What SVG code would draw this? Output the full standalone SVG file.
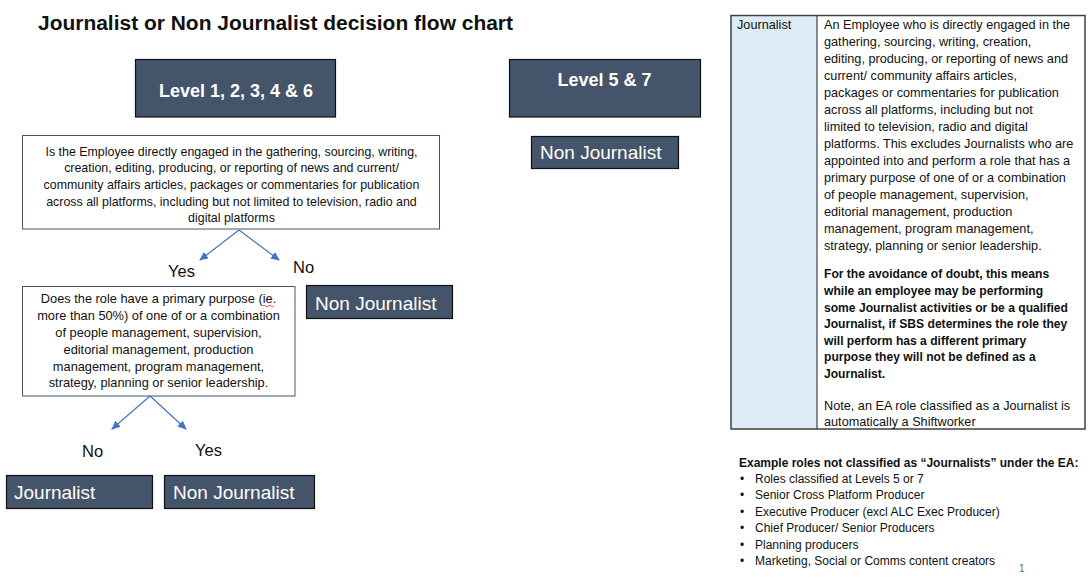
<svg xmlns="http://www.w3.org/2000/svg" width="1092" height="586" viewBox="0 0 1092 586">
<defs>
<style>
.t{font-family:"Liberation Sans",Arial,sans-serif;fill:#111}
.title{font-size:19.5px;font-weight:bold}
.dark{fill:#44546A;stroke:#111;stroke-width:1.2}
.lvl{font-family:"Liberation Sans",Arial,sans-serif;font-size:18px;font-weight:bold;fill:#fff;text-anchor:middle}
.out{font-family:"Liberation Sans",Arial,sans-serif;font-size:19px;fill:#fff}
.q{fill:#fff;stroke:#44546A;stroke-width:1}
.q1{font-size:12.4px;text-anchor:middle}
.q2{font-size:12.8px;text-anchor:middle}
.yn{font-size:16.5px}
.conn{stroke:#4472C4;stroke-width:1.2;fill:none;marker-end:url(#ah)}
.tb{font-size:12.7px}
.tbb{font-size:12.1px;font-weight:bold}
.ex{font-size:12px}
</style>
<marker id="ah" markerUnits="userSpaceOnUse" markerWidth="9" markerHeight="8" refX="8" refY="4" orient="auto">
<path d="M0,0 L9,4 L0,8 z" fill="#4472C4"/>
</marker>
</defs>
<rect width="1092" height="586" fill="#fff"/>

<text class="t title" x="38" y="30" textLength="475" lengthAdjust="spacingAndGlyphs">Journalist or Non Journalist decision flow chart</text>

<g id="level1">
<rect class="dark" x="135.5" y="59.5" width="200" height="57.5"/>
<text class="lvl" x="236" y="97">Level 1, 2, 3, 4 &amp; 6</text>
</g>

<g id="level57">
<rect class="dark" x="509.5" y="59.5" width="191" height="57.5"/>
<text class="lvl" x="604.5" y="86">Level 5 &amp; 7</text>
</g>

<g id="nonjournalist57">
<rect class="dark" x="531.5" y="136.5" width="147" height="32"/>
<text class="out" x="540" y="159">Non Journalist</text>
</g>

<g id="question1">
<rect class="q" x="22.5" y="135.5" width="417" height="93.5"/>
<text class="t q1" x="231.5" y="155.5">Is the Employee directly engaged in the gathering, sourcing, writing,</text>
<text class="t q1" x="231.5" y="172.2">creation, editing, producing, or reporting of news and current/</text>
<text class="t q1" x="231.5" y="188.9">community affairs articles, packages or commentaries for publication</text>
<text class="t q1" x="231.5" y="205.6">across all platforms, including but not limited to television, radio and</text>
<text class="t q1" x="231.5" y="222.3">digital platforms</text>
</g>

<g id="nonjournalist1">
<rect class="dark" x="306.5" y="285.5" width="146" height="33"/>
<text class="out" x="315" y="310">Non Journalist</text>
</g>

<g id="question2">
<rect class="q" x="22.5" y="286.5" width="272.5" height="109.5"/>
<text class="t q2" x="158.5" y="303.3">Does the role have a primary purpose (ie.</text>
<text class="t q2" x="158.5" y="320.1">more than 50%) of one of or a combination</text>
<text class="t q2" x="158.5" y="336.9">of people management, supervision,</text>
<text class="t q2" x="158.5" y="353.7">editorial management, production</text>
<text class="t q2" x="158.5" y="370.5">management, program management,</text>
<text class="t q2" x="158.5" y="387.3">strategy, planning or senior leadership.</text>
<path d="M263,306 q1.4,-1.5 2.75,0 t2.75,0 t2.75,0 t2.75,0" fill="none" stroke="#e02020" stroke-width="0.8"/>
</g>

<g id="journalist">
<rect class="dark" x="6.5" y="475.5" width="146" height="33"/>
<text class="out" x="14" y="499">Journalist</text>
</g>

<g id="nonjournalist2">
<rect class="dark" x="164.5" y="475.5" width="150" height="33"/>
<text class="out" x="173" y="499">Non Journalist</text>
</g>

<g id="connectors">
<line class="conn" x1="239" y1="230" x2="200" y2="260"/>
<line class="conn" x1="239" y1="230" x2="279" y2="260"/>
<line class="conn" x1="150" y1="396" x2="112" y2="429"/>
<line class="conn" x1="150" y1="396" x2="186" y2="429"/>
<text class="t yn" x="168" y="277">Yes</text>
<text class="t yn" x="293" y="273">No</text>
<text class="t yn" x="82" y="457">No</text>
<text class="t yn" x="195" y="456">Yes</text>
</g>

<g id="definition-table">
<rect x="731" y="15.5" width="86" height="413.5" fill="#DDEBF7"/>
<rect x="731" y="15.5" width="354" height="413.5" fill="none" stroke="#404040" stroke-width="1.5"/>
<line x1="817" y1="15.5" x2="817" y2="429" stroke="#404040" stroke-width="1.2"/>
<text class="t tb" x="737" y="29">Journalist</text>
<text class="t tb" x="824" y="29">An Employee who is directly engaged in the</text>
<text class="t tb" x="824" y="46">gathering, sourcing, writing, creation,</text>
<text class="t tb" x="824" y="63">editing, producing, or reporting of news and</text>
<text class="t tb" x="824" y="80">current/ community affairs articles,</text>
<text class="t tb" x="824" y="97">packages or commentaries for publication</text>
<text class="t tb" x="824" y="114">across all platforms, including but not</text>
<text class="t tb" x="824" y="131">limited to television, radio and digital</text>
<text class="t tb" x="824" y="148">platforms. This excludes Journalists who are</text>
<text class="t tb" x="824" y="165">appointed into and perform a role that has a</text>
<text class="t tb" x="824" y="182">primary purpose of one of or a combination</text>
<text class="t tb" x="824" y="199">of people management, supervision,</text>
<text class="t tb" x="824" y="216">editorial management, production</text>
<text class="t tb" x="824" y="233">management, program management,</text>
<text class="t tb" x="824" y="250">strategy, planning or senior leadership.</text>
<text class="t tbb" x="824" y="278.3">For the avoidance of doubt, this means</text>
<text class="t tbb" x="824" y="294.9">while an employee may be performing</text>
<text class="t tbb" x="824" y="311.5">some Journalist activities or be a qualified</text>
<text class="t tbb" x="824" y="328.1">Journalist, if SBS determines the role they</text>
<text class="t tbb" x="824" y="344.7">will perform has a different primary</text>
<text class="t tbb" x="824" y="361.3">purpose they will not be defined as a</text>
<text class="t tbb" x="824" y="377.9">Journalist.</text>
<text class="t tb" x="824" y="410">Note, an EA role classified as a Journalist is</text>
<text class="t tb" x="824" y="425.5">automatically a Shiftworker</text>
</g>

<g id="examples">
<text class="t ex" x="739" y="466.5" font-weight="bold">Example roles not classified as “Journalists” under the EA:</text>
<g class="t ex">
<text x="740" y="482.5">•</text><text x="755" y="482.5">Roles classified at Levels 5 or 7</text>
<text x="740" y="499">•</text><text x="755" y="499">Senior Cross Platform Producer</text>
<text x="740" y="515.5">•</text><text x="755" y="515.5">Executive Producer (excl ALC Exec Producer)</text>
<text x="740" y="532">•</text><text x="755" y="532">Chief Producer/ Senior Producers</text>
<text x="740" y="548.5">•</text><text x="755" y="548.5">Planning producers</text>
<text x="740" y="565">•</text><text x="755" y="565">Marketing, Social or Comms content creators</text>
</g>
<text x="1019" y="572" font-family="Liberation Sans, Arial, sans-serif" font-size="10" fill="#666">1</text>
</g>
</svg>
